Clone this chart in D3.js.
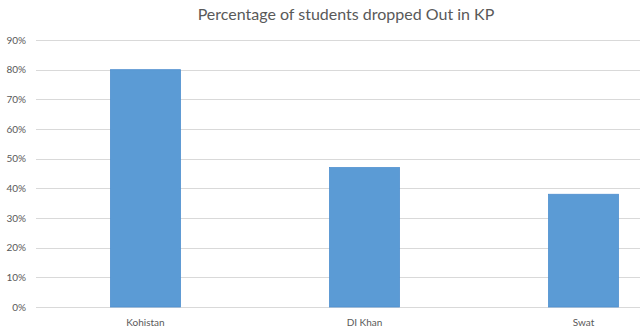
<!DOCTYPE html>
<html lang="en">
<head>
  <meta charset="UTF-8">
  <title>Percentage of students dropped Out in KP</title>
  <script src="https://d3js.org/d3.v7.min.js"></script>
  <style>
    body { margin: 0; background: #fff; }
    text { font-family: Lato, "Open Sans", sans-serif; fill: #595959; }
  </style>
</head>
<body>
<svg id="chart"></svg>
<script>
  // chart data
  const districts = ["Kohistan", "DI Khan", "Swat"];
  const dropout = [0.80, 0.47, 0.38];
  const yTicks = [0, 0.1, 0.2, 0.3, 0.4, 0.5, 0.6, 0.7, 0.8, 0.9];

  const width = 640, height = 333;
  const margin = { top: 40, left: 36, bottom: 26 };

  const svg = d3.select("#chart")
    .attr("width", width)
    .attr("height", height);

  // plot area runs past the right edge (the original is cropped)
  const x = d3.scaleBand()
    .domain(districts)
    .range([margin.left, margin.left + 3 * 219])
    .paddingInner(0.68)
    .paddingOuter(0.34);

  const y = d3.scaleLinear()
    .domain([0, 0.9])
    .range([height - margin.bottom, margin.top]);

  // gridlines
  svg.append("g")
    .selectAll("line")
    .data(yTicks)
    .join("line")
    .attr("x1", margin.left)
    .attr("x2", width)
    .attr("y1", d => Math.round(y(d)) + 0.5)
    .attr("y2", d => Math.round(y(d)) + 0.5)
    .attr("stroke", "#d9d9d9")
    .attr("stroke-width", 1);

  // y tick labels
  svg.append("g")
    .selectAll("text")
    .data(yTicks)
    .join("text")
    .attr("x", 26)
    .attr("y", d => y(d))
    .attr("dy", "0.35em")
    .attr("text-anchor", "end")
    .style("font-size", "10px")
    .text(d3.format(".0%"));

  // bars
  svg.append("g")
    .selectAll("rect")
    .data(districts)
    .join("rect")
    .attr("x", d => x(d))
    .attr("y", (d, i) => y(dropout[i]))
    .attr("width", x.bandwidth())
    .attr("height", (d, i) => y(0) - y(dropout[i]))
    .attr("fill", "#5b9bd5")
    .attr("stroke", "#4f8fcf")
    .attr("stroke-width", 0.8);

  // x labels
  svg.append("g")
    .selectAll("text")
    .data(districts)
    .join("text")
    .attr("x", d => x(d) + x.bandwidth() / 2)
    .attr("y", 322)
    .attr("dy", "0.35em")
    .attr("text-anchor", "middle")
    .style("font-size", "10px")
    .text(d => d);

  // title
  svg.append("text")
    .attr("x", 346)
    .attr("y", 14)
    .attr("dy", "0.35em")
    .attr("text-anchor", "middle")
    .style("font-size", "16px")
    .text("Percentage of students dropped Out in KP");
</script>
</body>
</html>
